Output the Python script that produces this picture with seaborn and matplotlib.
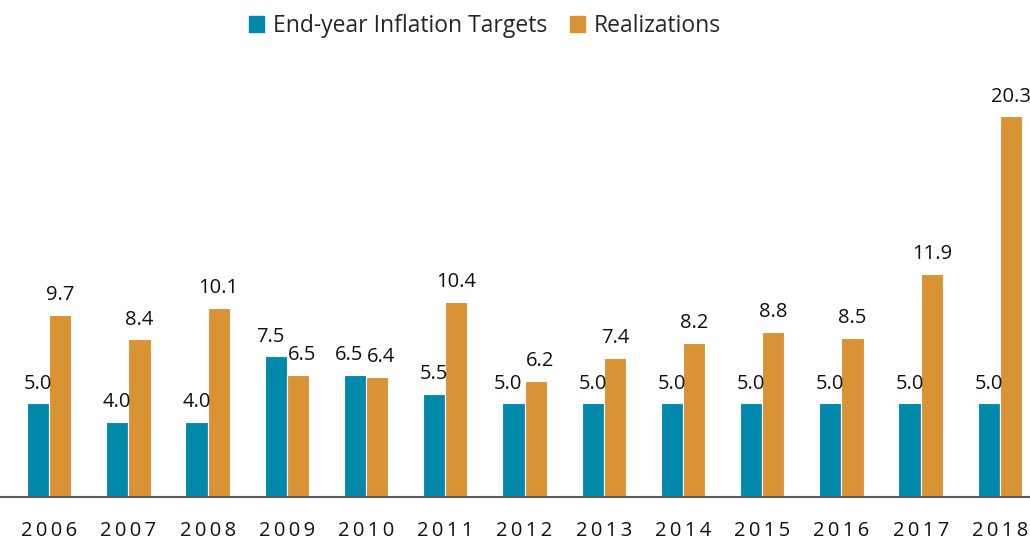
import pandas as pd
import matplotlib.pyplot as plt
import seaborn as sns

years = ["2006", "2007", "2008", "2009", "2010", "2011", "2012",
         "2013", "2014", "2015", "2016", "2017", "2018"]
targets = [5.0, 4.0, 4.0, 7.5, 6.5, 5.5, 5.0, 5.0, 5.0, 5.0, 5.0, 5.0, 5.0]
realizations = [9.7, 8.4, 10.1, 6.5, 6.4, 10.4, 6.2, 7.4, 8.2, 8.8, 8.5, 11.9, 20.3]
series = ["End-year Inflation Targets", "Realizations"]
colors = ["#0089AB", "#DA9334"]

df = pd.DataFrame({
    "year": years * 2,
    "value": targets + realizations,
    "series": [series[0]] * len(years) + [series[1]] * len(years),
})

sns.set_style("white")
plt.rcParams["font.family"] = ["Open Sans", "DejaVu Sans"]

fig = plt.figure(figsize=(10.3, 5.4), dpi=100)
ax = fig.add_axes([0.0, 43 / 540, 1.0, 437 / 540])

sns.barplot(data=df, x="year", y="value", hue="series", palette=colors,
            saturation=1, width=0.56, edgecolor="white", linewidth=0.8,
            ax=ax, legend=False)

# value labels above each bar; push apart the labels of bars of similar height
for i, container in enumerate(ax.containers):
    for j, bar in enumerate(container):
        close = abs(targets[j] - realizations[j]) < 1.5
        dx = (-4 if i == 0 else 3) if close else 0
        ax.annotate(f"{bar.get_height():.1f}",
                    (bar.get_x() + bar.get_width() / 2, bar.get_height()),
                    xytext=(dx, 7), textcoords="offset points",
                    ha="center", va="bottom", fontsize=14.5, color="#111111")

ax.set_xlim(-0.62, 12.38)
ax.set_ylim(0, 23.3)
ax.set_yticks([])
ax.set_xlabel("")
ax.set_ylabel("")
for side in ["top", "right", "left"]:
    ax.spines[side].set_visible(False)
ax.spines["bottom"].set_color("#595959")
ax.spines["bottom"].set_linewidth(1.5)

ax.set_xticks(range(len(years)))
ax.set_xticklabels(["\u2009".join(y) for y in years], fontsize=14.5, color="#111111")
ax.tick_params(axis="x", length=0, pad=17)

handles = [plt.Rectangle((0, 0), 1, 1, color=c) for c in colors]
fig.legend(handles, series, loc="center", bbox_to_anchor=(485 / 1030, 1 - 26 / 540),
           ncol=2, frameon=False, fontsize=16.5, handlelength=0.65, handleheight=0.65,
           handletextpad=0.4, columnspacing=1.0)

fig.savefig("out.png", dpi=100)
